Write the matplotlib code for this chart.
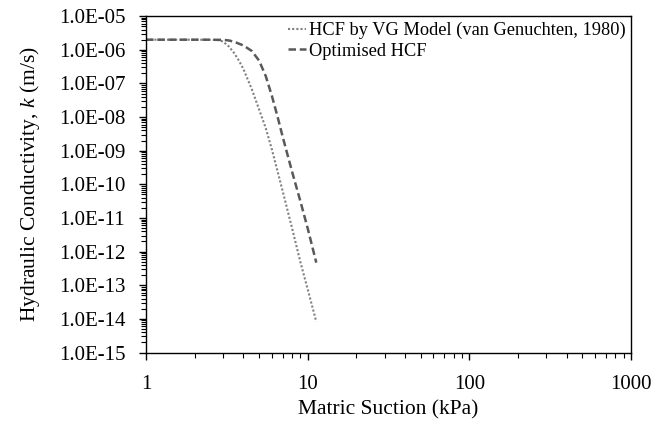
import numpy as np
import matplotlib.pyplot as plt
from matplotlib.ticker import FuncFormatter, LogLocator, NullFormatter

plt.rcParams['font.family'] = 'Liberation Serif'
plt.rcParams['mathtext.fontset'] = 'custom'
plt.rcParams['mathtext.it'] = 'Liberation Serif:italic'
plt.rcParams['mathtext.rm'] = 'Liberation Serif'

# matric suction (kPa) and hydraulic conductivity (m/s)
suction_vg = [1, 1.5, 2, 2.5, 2.85, 3.0, 3.25, 3.5, 3.75, 4.0, 4.5, 5.0, 5.5, 6, 7, 8, 9, 10, 11.3]
k_vg = [2.0e-6, 2.0e-6, 2.0e-6, 1.98e-6, 1.94e-6, 1.74e-6, 1.26e-6, 8.1e-7, 4.8e-7, 2.7e-7,
        6.9e-8, 1.7e-8, 4.7e-9, 1.1e-9, 6.3e-11, 5.0e-12, 5.0e-13, 7.6e-14, 8.2e-15]

suction_opt = [1, 1.5, 2, 2.5, 3.0, 3.25, 3.5, 4.0, 4.5, 5.0, 5.5, 6.0, 6.5, 7, 8, 9, 10, 11.3]
k_opt = [2.0e-6, 2.0e-6, 2.0e-6, 2.0e-6, 1.97e-6, 1.9e-6, 1.74e-6, 1.35e-6, 9.3e-7, 4.8e-7,
         1.66e-7, 4.3e-8, 1.05e-8, 2.6e-9, 2.4e-10, 3.2e-11, 4.9e-12, 4.7e-13]

fig = plt.figure(figsize=(6.67, 4.26), dpi=100)
ax = fig.add_axes([0.219, 0.1725, 0.727, 0.7895])

ax.plot(suction_vg, k_vg, linestyle=(0, (1, 1)), color='#808080', lw=1.5,
        label='HCF by VG Model (van Genuchten, 1980)')
ax.plot(suction_opt, k_opt, linestyle=(0, (3, 1.5)), color='#595959', lw=1.8,
        label='Optimised HCF')

ax.set_xscale('log')
ax.set_yscale('log')
ax.set_xlim(1, 1000)
ax.set_ylim(1e-15, 1e-5)

ax.yaxis.set_major_locator(LogLocator(base=10, numticks=20))
ax.yaxis.set_minor_locator(LogLocator(base=10, subs=np.arange(2, 10), numticks=20))
ax.yaxis.set_major_formatter(FuncFormatter(lambda v, p: f'{v:.1E}'))
ax.yaxis.set_minor_formatter(NullFormatter())
ax.xaxis.set_major_formatter(FuncFormatter(lambda v, p: f'{v:g}'))
ax.xaxis.set_minor_formatter(NullFormatter())

ax.tick_params(which='major', direction='out', length=5, width=1, labelsize=15)
ax.tick_params(axis='y', which='major', pad=10)
ax.tick_params(axis='x', which='major', pad=11)
ax.tick_params(which='minor', direction='out', length=3.5, width=0.8)
for s in ax.spines.values():
    s.set_linewidth(1)

ax.set_xlabel('Matric Suction (kPa)', fontsize=15.5, labelpad=5)
ax.set_ylabel('Hydraulic Conductivity, $k$ (m/s)', fontsize=15.5, labelpad=12)

ax.legend(loc='upper right', frameon=False, fontsize=13.2, handlelength=1.0,
          handletextpad=0.15, borderaxespad=0.15, borderpad=0.15, labelspacing=0.2)

fig.savefig('out.png', dpi=100)
